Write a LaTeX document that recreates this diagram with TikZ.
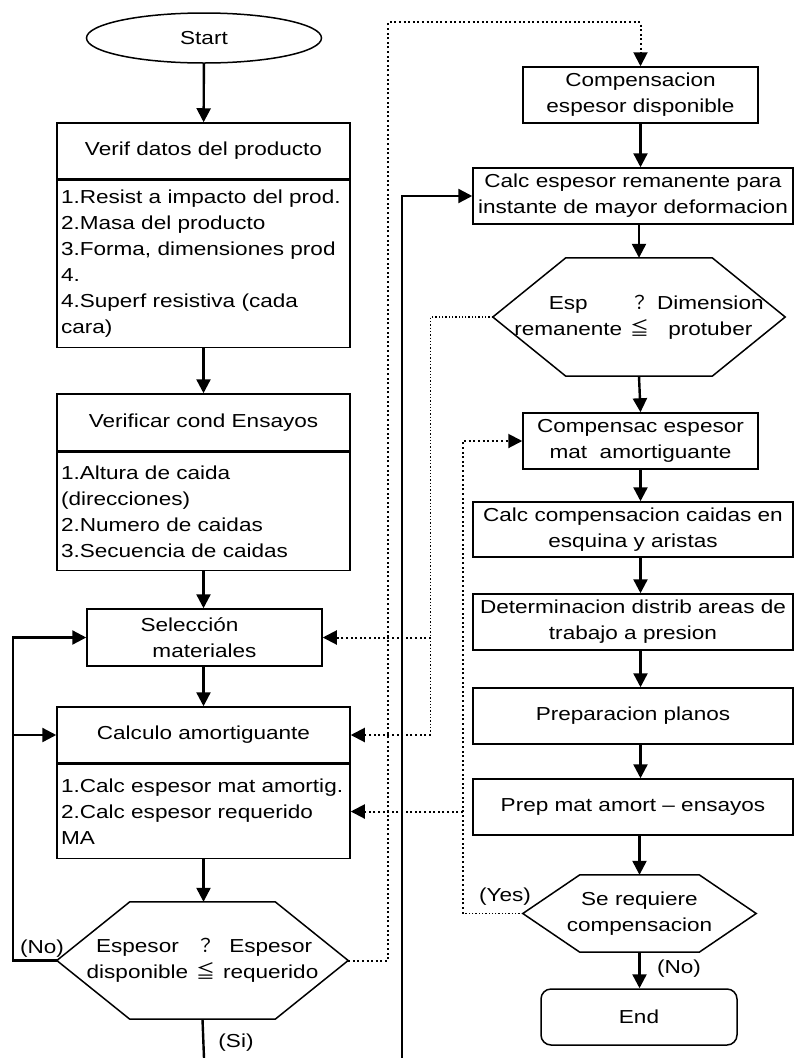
\documentclass[tikz,border=0pt]{standalone}
\usepackage{fontspec}
\setmainfont{Liberation Sans}[FakeStretch=1.2]
\newfontfamily\cjk{Noto Sans CJK JP}
\usetikzlibrary{%
	calc,%
	arrows.meta,%
	shapes.geometric,%
	positioning,%
}
\tikzset{
	>={Triangle[length=14pt,width=14pt]},%
	nodes={align=center},%
	boxline/.style={line width=1.5pt},%
	procbox/.style={%
			draw,%
			rectangle,%
			boxline,%
			minimum height=56pt,%
			inner xsep=2pt,%
			inner ysep=2pt},%
	widebox/.style={%
			procbox,%
			minimum width=320pt},%
	hdrbox/.style={%
			procbox,%
			minimum width=293pt},%
	listbox/.style={%
			draw,%
			rectangle,%
			boxline,%
			anchor=north,%
			text width=285pt,%
			inner xsep=4pt,%
			inner ysep=2pt,%
			align=left},%
	terminal/.style={%
			draw,%
			ellipse,%
			boxline},%
	endbox/.style={%
			draw,%
			rectangle,%
			boxline,%
			rounded corners=10pt},%
	decision/.style={%
			rectangle,%
			inner sep=0pt},%
	lbl/.style={inner sep=1pt},%
	flow/.style={line width=2.4pt},%
	coarsedot/.style={line width=2pt, dash pattern=on 2pt off 2.6pt},%
	finedot/.style={line width=1.3pt, dash pattern=on 1.3pt off 2pt},%
}
\newcommand{\boxfont}{\fontsize{18.8pt}{26pt}\selectfont}
\newcommand{\qmark}{{\cjk ？}}
\newcommand{\lqsign}{{\cjk ≦}}
\newcommand{\hexpath}[2]{%
	\draw[boxline] (#1.west) -- ([xshift=#2]#1.north west) -- ([xshift=-#2]#1.north east)
	-- (#1.east) -- ([xshift=-#2]#1.south east) -- ([xshift=#2]#1.south west) -- cycle;}

\begin{document}
\begin{tikzpicture}[x=1pt, y=-1pt, nodes={font={\boxfont}}]%
	\useasboundingbox (0,0) rectangle (796,1058);

	% left column
	\node[terminal, minimum width=235pt, minimum height=50pt] (start) at (204,38) {Start};

	\node[hdrbox] (verifhdr) at (203.5,151) {Verif datos del producto};
	\node[listbox, minimum height=167pt] (veriflist) at (verifhdr.south) {1.Resist a impacto del prod.\\
			2.Masa del producto\\
			3.Forma, dimensiones prod\\
			4.\\
			4.Superf resistiva (cada\\
			cara)};

	\node[hdrbox, minimum height=57pt] (condhdr) at (203.5,422.5) {Verificar cond Ensayos};
	\node[listbox, minimum height=118pt] (condlist) at (condhdr.south) {1.Altura de caida\\
			(direcciones)\\
			2.Numero de caidas\\
			3.Secuencia de caidas};

	\node[procbox, minimum width=235pt, minimum height=57pt] (selmat) at (204.5,637.5) {Selección\hspace*{30pt}\\ materiales};

	\node[hdrbox] (calchdr) at (203.5,735) {Calculo amortiguante};
	\node[listbox, minimum height=94pt] (calclist) at (calchdr.south) {1.Calc espesor mat amortig.\\
			2.Calc espesor requerido\\
			MA};

	\node[decision, minimum width=291pt, minimum height=117pt] (hexa1) at (202.5,960.5) {\begin{tabular}{@{}c@{\hspace{8pt}}c@{\hspace{8pt}}c@{}}
			Espesor    & \qmark  & Espesor   \\
			disponible & \lqsign & requerido
		\end{tabular}};
	\hexpath{hexa1}{73pt}

	% right column
	\node[procbox, minimum width=235pt] (compdisp) at (640.5,95) {Compensacion\\ espesor disponible};
	\node[widebox] (calcrem) at (633,196) {Calc espesor remanente para\\ instante de mayor deformacion};

	\node[decision, minimum width=292pt, minimum height=118pt] (hexa2) at (639,317) {\begin{tabular}{@{}c@{\hspace{8pt}}c@{\hspace{8pt}}c@{}}
			Esp       & \qmark  & Dimension \\
			remanente & \lqsign & protuber
		\end{tabular}};
	\hexpath{hexa2}{73pt}

	\node[procbox, minimum width=235pt] (compmat) at (640.5,441) {Compensac espesor\\ mat\ \ amortiguante};
	\node[widebox, minimum height=55pt] (calcesq) at (633,529.5) {Calc compensacion caidas en\\ esquina y aristas};
	\node[widebox] (distrib) at (633,622) {Determinacion distrib areas de\\ trabajo a presion};
	\node[widebox] (planos) at (633,716) {Preparacion planos};
	\node[widebox] (prepmat) at (633,807) {Prep mat amort – ensayos};

	\node[decision, minimum width=233pt, minimum height=77pt] (hexa3) at (639.5,913.5) {Se requiere\\ compensacion};
	\hexpath{hexa3}{57pt}

	\node[endbox, minimum width=196pt, minimum height=56pt] (fin) at (639,1017) {End};

	% branch labels
	\node[lbl] (nolbl) at (42,949) {(No)};
	\node[lbl] (silbl) at (236,1043) {(Si)};
	\node[lbl] (yeslbl) at (505,897) {(Yes)};
	\node[lbl] (endnolbl) at (679,969) {(No)};

	\coordinate (sicut) at (204,1058);
	\coordinate (remcut) at (402,1058);

	% main flow
	\draw[->, flow] (start) to (verifhdr);
	\draw[->, flow] (veriflist) to (condhdr);
	\draw[->, flow] (condlist.south) to (selmat.north -| condlist.south);
	\draw[->, flow] (selmat.south -| calchdr.north) to (calchdr.north);
	\draw[->, flow] (calclist.south) to (hexa1.north -| calclist.south);
	\draw[->, flow] (hexa1.west) -- ++(-44,0) |- (selmat.west);
	\draw[->, flow] (hexa1.west) -- ++(-44,0) |- (calchdr.west);
	\draw[flow] (hexa1.south) -- (sicut);
	\draw[->, flow] (remcut) |- (calcrem.west);

	\draw[->, flow] (compdisp.south) to (compdisp.south |- calcrem.north);
	\draw[->, flow] (hexa2.north |- calcrem.south) to (hexa2.north);
	\draw[->, flow] (hexa2.south) to (compmat.north);
	\draw[->, flow] (compmat.south) to (compmat.south |- calcesq.north);
	\foreach \a/\b in {calcesq/distrib, distrib/planos, planos/prepmat}
		\draw[->, flow] (compmat.south |- \a.south) to (compmat.south |- \b.north);
	\draw[->, flow] (hexa3.north |- prepmat.south) to (hexa3.north);
	\draw[->, flow] (hexa3.south) to (fin.north -| hexa3.south);

	% dotted returns
	\draw[->, coarsedot] (hexa1.east) -- ++(40,0) |- ([yshift=44pt]compdisp.north) -- (compdisp.north);

	\draw[finedot] (hexa2.west) -- ++(-62,0) coordinate (hxbend) -- (hxbend |- calchdr.east);
	\draw[->, coarsedot] (hxbend |- selmat.east) -- (selmat.east);
	\draw[->, coarsedot] (hxbend |- calchdr.east) -- (calchdr.east);

	\draw[finedot] (hexa3.west) -- ++(-60,0) coordinate (yesbend);
	\draw[->, coarsedot] (yesbend) |- (compmat.west);
	\draw[->, coarsedot] (yesbend |- calclist.east) -- (calclist.east);
\end{tikzpicture}
\end{document}
